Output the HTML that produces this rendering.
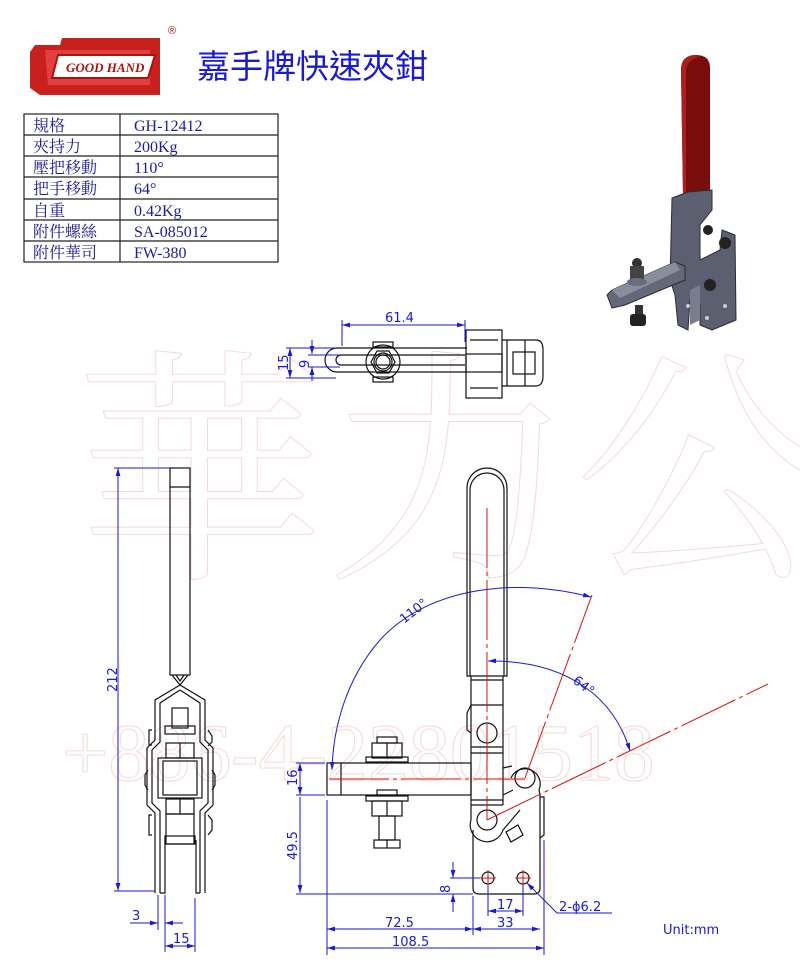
<!DOCTYPE html>
<html><head><meta charset="utf-8"><style>
html,body{margin:0;padding:0;background:#fff;width:800px;height:973px;overflow:hidden}
svg{display:block}
.k{fill:none;stroke:#111;stroke-width:1.2}
.r{fill:none;stroke:#e01010;stroke-width:1}
.b{fill:none;stroke:#1a1ad0;stroke-width:1}
.bt{fill:#1a1ad0;font-family:"DejaVu Sans",sans-serif;font-size:13px}
.tt{font-family:"Liberation Serif","Noto Serif CJK SC",serif;font-size:16px;fill:#1a1aa0}
</style></head><body>
<svg width="800" height="973" viewBox="0 0 800 973" xmlns="http://www.w3.org/2000/svg">
<defs>
<marker id="a" viewBox="0 0 10 10" refX="10" refY="5" markerWidth="8" markerHeight="8" orient="auto-start-reverse"><path d="M0,2L10,5L0,8z" fill="#1a1ad0"/></marker>
</defs>
<!-- watermark -->
<g fill="none" stroke="#f5d8d8" stroke-width="1">
<text x="62" y="780" font-family="Liberation Serif,serif" font-size="82">+886-4-22801518</text>
<text x="75" y="560" font-family="Noto Serif CJK SC,serif" font-size="250">華力公</text>
</g>
<!-- logo -->
<g>
<path d="M35,45 L60,45 L62,38 L160,38 L160,95 L40,95 L30,88 L30,52 Z" fill="#c8201c"/>
<path d="M45,50 L150,50 L150,85 L48,85 Z" fill="#e04040"/>
<path d="M58,55 L155,55 L148,78 L52,78 Z" fill="#fff" stroke="#b01010" stroke-width="2"/>
<text x="66" y="72" font-family="Liberation Serif,serif" font-style="italic" font-weight="bold" font-size="13" fill="#b01010">GOOD HAND</text>
<text x="168" y="34" font-family="Liberation Sans,sans-serif" font-size="11" fill="#b01010">®</text>
</g>
<text x="197" y="78" font-family="Liberation Sans,'Noto Sans CJK TC',sans-serif" font-size="33" fill="#1a1ad0">嘉手牌快速夾鉗</text>
<!-- table -->
<g stroke="#222" stroke-width="1.2" fill="none">
<rect x="24" y="114" width="254" height="148"/>
<line x1="120" y1="114" x2="120" y2="262"/>
<line x1="24" y1="135" x2="278" y2="135"/><line x1="24" y1="156" x2="278" y2="156"/>
<line x1="24" y1="177" x2="278" y2="177"/><line x1="24" y1="199" x2="278" y2="199"/>
<line x1="24" y1="220" x2="278" y2="220"/><line x1="24" y1="241" x2="278" y2="241"/>
</g>
<g class="tt">
<text x="33" y="131">規格</text><text x="134" y="131">GH-12412</text>
<text x="33" y="152">夾持力</text><text x="134" y="152">200Kg</text>
<text x="33" y="173">壓把移動</text><text x="134" y="173">110°</text>
<text x="33" y="194">把手移動</text><text x="134" y="194">64°</text>
<text x="33" y="216">自重</text><text x="134" y="216">0.42Kg</text>
<text x="33" y="237">附件螺絲</text><text x="134" y="237">SA-085012</text>
<text x="33" y="258">附件華司</text><text x="134" y="258">FW-380</text>
</g>
<!-- 3D render -->
<g>
<path d="M681,70 Q681,55 696,55 Q710,55 710,68 L710,190 L683,195 Z" fill="#7a0c0c"/>
<path d="M681,70 Q681,55 696,55 L699,57 Q686,60 686,72 L686,193 L683,195Z" fill="#a82020"/>
<path d="M672,198 L688,192 L712,190 L712,210 L700,225 L700,260 L720,250 L722,230 L735,235 L736,320 L712,330 L700,325 L700,305 L690,300 L688,330 L678,325 L675,295 L670,280 Z" fill="#5c5f70" stroke="#2a2c38" stroke-width="1"/>
<path d="M690,290 L700,285 L700,320 L690,325Z" fill="#7a7d8e"/>
<path d="M607,295 L612,290 L675,262 L685,266 L685,280 L625,305 L612,308 Z" fill="#656878" stroke="#2a2c38"/>
<path d="M612,290 L675,262 L680,270 L620,298Z" fill="#8a8d9c"/>
<circle cx="637" cy="263" r="5" fill="#333"/><rect x="630" y="266" width="14" height="14" fill="#444"/>
<ellipse cx="637" cy="282" rx="10" ry="4" fill="#6a6d7c"/>
<rect x="635" y="305" width="8" height="12" fill="#333"/><rect x="630" y="314" width="16" height="12" rx="3" fill="#222"/>
<circle cx="708" cy="230" r="5" fill="#222"/><circle cx="725" cy="243" r="6" fill="#222"/><circle cx="710" cy="285" r="6" fill="#222"/>
<circle cx="688" cy="306" r="2" fill="#ccc"/><circle cx="707" cy="318" r="2" fill="#ccc"/><circle cx="725" cy="306" r="2" fill="#ccc"/>
</g>
<!-- top view -->
<g class="k">
<path d="M337,348 L467,348 M337,372 L467,372 M337,348 A12,12 0 0 0 337,372"/>
<path d="M341,355 L465,355 M341,365 L465,365 M341,355 A5,5 0 0 0 341,365"/>
<circle cx="383" cy="362" r="17"/><path d="M371,362 L377,351 L389,351 L395,362 L389,373 L377,373Z"/>
<circle cx="383" cy="362" r="7"/><circle cx="383" cy="362" r="9"/>
<rect x="373" y="342" width="20" height="5"/><rect x="373" y="377" width="20" height="5"/>
<rect x="466" y="330" width="36" height="68"/><rect x="466" y="354" width="36" height="18"/>
<path d="M470,340 L498,340 M470,388 L498,388"/>
<path d="M502,340 L536,340 Q543,340 543,350 L543,376 Q543,386 536,386 L502,386"/>
<rect x="513" y="352" width="22" height="22"/><path d="M507,340 L507,386 M525,340 L525,386"/>
</g>
<g class="b">
<line x1="342" y1="325" x2="465" y2="325" marker-start="url(#a)" marker-end="url(#a)"/>
<line x1="342" y1="320" x2="342" y2="346"/><line x1="465" y1="320" x2="465" y2="342"/>
<line x1="290" y1="348" x2="290" y2="378" marker-start="url(#a)" marker-end="url(#a)"/>
<line x1="312" y1="340" x2="312" y2="354" marker-end="url(#a)"/><line x1="312" y1="381" x2="312" y2="367" marker-end="url(#a)"/>
<line x1="286" y1="348" x2="336" y2="348"/><line x1="286" y1="378" x2="336" y2="378"/>
<line x1="308" y1="355" x2="340" y2="355"/><line x1="308" y1="367" x2="340" y2="367"/>
</g>
<text class="bt" x="385" y="322">61.4</text>
<text class="bt" transform="translate(288,371) rotate(-90)">15</text>
<text class="bt" transform="translate(309,368) rotate(-90)" font-size="11">9</text>
<!-- left view -->
<g class="k">
<rect x="170" y="468" width="20" height="207"/><line x1="170" y1="487" x2="190" y2="487"/>
<path d="M172,675 L180,685 L188,675 M176,675 L180,681 L184,675"/>
<path d="M180,685 L155,700 L155,740 L147,748 L147,805 L155,813 L155,893 M180,685 L205,700 L205,740 L213,748 L213,805 L205,813 L205,893"/>
<path d="M180,690 L160,703 L160,742 L152,750 L152,803 L160,811 L160,893 M180,690 L200,703 L200,742 L208,750 L208,803 L200,811 L200,893"/>
<path d="M160,893 L165,893 L165,840 M196,840 L196,893 L200,893"/>
<rect x="172" y="708" width="16" height="20"/><rect x="165" y="726" width="30" height="8"/>
<rect x="166" y="743" width="28" height="15"/><line x1="180" y1="743" x2="180" y2="758"/>
<rect x="158" y="758" width="44" height="40"/><rect x="163" y="761" width="34" height="34"/>
<rect x="166" y="799" width="28" height="15"/><line x1="180" y1="799" x2="180" y2="814"/>
<rect x="166" y="814" width="28" height="30"/><rect x="165" y="836" width="30" height="8"/>
<path d="M152,730 L149,730 L149,745 L152,745 M208,730 L212,736 L212,742 L208,746 M152,815 L149,815 L149,835 L152,835 M208,815 L212,820 L212,830 L208,835 M148,770 L145,775 L145,785 L148,790 M212,770 L215,775 L215,785 L212,790"/>
</g>
<g class="b">
<line x1="118" y1="468" x2="118" y2="891" marker-start="url(#a)" marker-end="url(#a)"/>
<line x1="114" y1="468" x2="170" y2="468"/><line x1="114" y1="891" x2="155" y2="891"/>
<line x1="158" y1="895" x2="158" y2="930"/><line x1="165" y1="895" x2="165" y2="952"/><line x1="195" y1="898" x2="195" y2="952"/>
<line x1="130" y1="923" x2="158" y2="923" marker-end="url(#a)"/><line x1="183" y1="923" x2="165" y2="923" marker-end="url(#a)"/>
<line x1="165" y1="946" x2="195" y2="946" marker-start="url(#a)" marker-end="url(#a)"/>
</g>
<text class="bt" transform="translate(117,692) rotate(-90)">212</text>
<text class="bt" x="132" y="920">3</text>
<text class="bt" x="173" y="943">15</text>
<!-- front view -->
<g class="k">
<path d="M467,676 L467,488 A20,20 0 0 1 507,488 L507,676 Z"/><path d="M470,676 L470,490 A17,17 0 0 1 504,490 L504,676"/>
<path d="M471,676 L471,820 M503,676 L503,805"/><line x1="471" y1="680" x2="503" y2="680"/><line x1="471" y1="705" x2="503" y2="705"/>
<line x1="471" y1="747" x2="503" y2="747"/><line x1="471" y1="753" x2="503" y2="753"/>
<line x1="471" y1="800" x2="503" y2="800"/><line x1="471" y1="805" x2="503" y2="805"/>
<circle cx="487" cy="733" r="10"/><circle cx="487" cy="820" r="10"/>
<path d="M471,820 A16,16 0 0 0 503,830 L520,810"/>
<circle cx="525" cy="778" r="10"/><path d="M511,778 A14,14 0 1 1 539,790 L540,795 L540,888 Q540,894 534,894 L479,894 Q473,894 473,888 L473,830"/>
<path d="M503,768 L512,766 M503,795 L513,790"/>
<path d="M540,797 L544,797 L544,835 L540,838"/>
<path d="M467,713 L471,705 M467,713 L467,730 L471,733"/>
<path d="M506,832 L518,825 L523,835 L511,842 Z"/>
<rect x="327" y="763" width="144" height="32"/><line x1="341" y1="763" x2="341" y2="795"/>
<rect x="366" y="757" width="42" height="5"/><rect x="372" y="743" width="30" height="15"/><rect x="377" y="737" width="20" height="6"/><line x1="387" y1="743" x2="387" y2="758"/>
<rect x="366" y="796" width="42" height="5"/><rect x="372" y="801" width="30" height="15"/><rect x="377" y="790" width="20" height="5"/><line x1="387" y1="801" x2="387" y2="816"/>
<rect x="379" y="816" width="16" height="24"/><rect x="374" y="840" width="26" height="8"/><line x1="387" y1="840" x2="387" y2="848"/>
<circle cx="488" cy="878" r="6"/><circle cx="523" cy="878" r="6"/>
</g>
<g class="r">
<line x1="487" y1="508" x2="487" y2="820" stroke-dasharray="60,4,4,4"/>
<line x1="329" y1="779" x2="525" y2="779" stroke-dasharray="60,4,4,4"/>
<line x1="487" y1="820" x2="768" y2="684" stroke-dasharray="60,4,4,4"/>
<line x1="525" y1="778" x2="592" y2="595" stroke-dasharray="60,4,4,4"/>
<path d="M480,878 h16 M488,870 v16 M515,878 h16 M523,870 v16"/>
</g>
<g class="b">
<path d="M591,597 C 520,578 430,585 380,640 C 345,680 333,730 332,770" marker-start="url(#a)" marker-end="url(#a)"/>
<path d="M630,751 C 615,700 570,660 488,661" marker-start="url(#a)" marker-end="url(#a)"/>
<line x1="300" y1="763" x2="300" y2="795" marker-start="url(#a)" marker-end="url(#a)"/>
<line x1="300" y1="797" x2="300" y2="893" marker-end="url(#a)"/>
<line x1="296" y1="763" x2="325" y2="763"/><line x1="296" y1="795" x2="325" y2="795"/>
<line x1="296" y1="894" x2="473" y2="894"/>
<line x1="453" y1="862" x2="453" y2="878" marker-end="url(#a)"/><line x1="453" y1="912" x2="453" y2="894" marker-end="url(#a)"/>
<line x1="450" y1="878" x2="480" y2="878"/>
<line x1="327" y1="800" x2="327" y2="955"/><line x1="473" y1="896" x2="473" y2="935"/><line x1="544" y1="840" x2="544" y2="955"/>
<line x1="488" y1="886" x2="488" y2="916"/><line x1="523" y1="886" x2="523" y2="916"/>
<line x1="488" y1="911" x2="523" y2="911" marker-start="url(#a)" marker-end="url(#a)"/>
<line x1="327" y1="929" x2="473" y2="929" marker-start="url(#a)" marker-end="url(#a)"/>
<line x1="473" y1="929" x2="540" y2="929" marker-start="url(#a)" marker-end="url(#a)"/>
<line x1="327" y1="948" x2="544" y2="948" marker-start="url(#a)" marker-end="url(#a)"/>
<path d="M557,913 L612,913 M557,913 L527,883" marker-end="url(#a)"/>
</g>
<text class="bt" transform="translate(404,624) rotate(-38)">110°</text>
<text class="bt" transform="translate(572,682) rotate(38)">64°</text>
<text class="bt" transform="translate(297,786) rotate(-90)">16</text>
<text class="bt" transform="translate(297,860) rotate(-90)">49.5</text>
<text class="bt" transform="translate(450,893) rotate(-90)">8</text>
<text class="bt" x="497" y="909">17</text>
<text class="bt" x="497" y="927">33</text>
<text class="bt" x="385" y="927">72.5</text>
<text class="bt" x="392" y="946">108.5</text>
<text class="bt" x="559" y="911">2-ϕ6.2</text>
<text class="bt" x="663" y="934" font-size="16">Unit:mm</text>
</svg>
</body></html>
